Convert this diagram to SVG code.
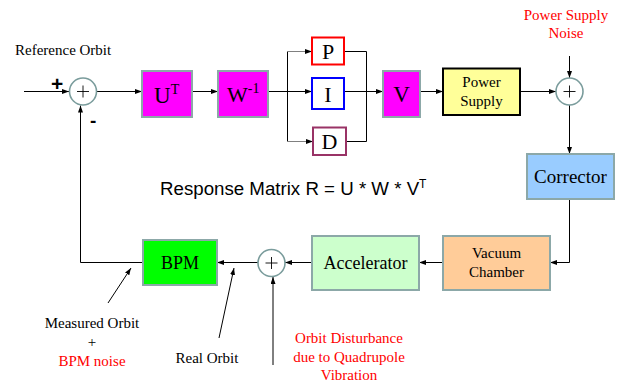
<svg xmlns="http://www.w3.org/2000/svg" width="618" height="386" viewBox="0 0 618 386">
<style>
.bg{fill:#ffffff}
.ln{fill:none;stroke:#000;stroke-width:1}
.gl{fill:none;stroke:#808080;stroke-width:1}
.box{stroke:#8CA8A8;stroke-width:2}
.mag{fill:#FF00FF}
.sum{fill:#fff;stroke:#7A9C9C;stroke-width:1.6}
.plus{fill:none;stroke:#000;stroke-width:0.9}
.t{font-family:"Liberation Serif","Times New Roman",serif;fill:#000}
.red{fill:#FF0000}
.s{font-family:"Liberation Sans",Arial,sans-serif;fill:#000}
.c{text-anchor:middle}
</style>
<defs>
<marker id="ah" markerWidth="7" markerHeight="5" refX="7" refY="2.5" orient="auto" markerUnits="userSpaceOnUse">
<path d="M0,0 L7,2.5 L0,5 z" fill="#000"/>
</marker>
</defs>
<rect class="bg" x="0" y="0" width="618" height="386"/>

<g id="connectors">
<path class="ln" d="M24,91.5 H69" marker-end="url(#ah)"/>
<path class="ln" d="M96,91.5 H142" marker-end="url(#ah)"/>
<path class="ln" d="M192,91.5 H218" marker-end="url(#ah)"/>
<path class="ln" d="M268,91.5 H312" marker-end="url(#ah)"/>
<path class="ln" d="M287.5,51.5 V141.5"/>
<path class="gl" d="M287.5,51.5 H312" marker-end="url(#ah)"/>
<path class="gl" d="M287.5,141.5 H313" marker-end="url(#ah)"/>
<path class="ln" d="M344,51.5 H366.5 V141.5 H346"/>
<path class="ln" d="M344,91.5 H383" marker-end="url(#ah)"/>
<path class="ln" d="M420,91.5 H443" marker-end="url(#ah)"/>
<path class="ln" d="M520,91.5 H556" marker-end="url(#ah)"/>
<path class="ln" d="M569.5,56 V78" marker-end="url(#ah)"/>
<path class="ln" d="M569.5,105 V154" marker-end="url(#ah)"/>
<path class="ln" d="M569.5,199 V262.5 H550" marker-end="url(#ah)"/>
<path class="ln" d="M443,262.5 H419" marker-end="url(#ah)"/>
<path class="ln" d="M312,262.5 H285" marker-end="url(#ah)"/>
<path class="ln" d="M258,262.5 H217" marker-end="url(#ah)"/>
<path class="ln" d="M143,262.5 H80.5 V105.5" marker-end="url(#ah)"/>
<path class="ln" d="M108,303 L131,268" marker-end="url(#ah)"/>
<path class="ln" d="M219,338 L234,268" marker-end="url(#ah)"/>
<path class="ln" d="M273,365 V277" marker-end="url(#ah)"/>
</g>

<g id="sum1">
<circle class="sum" cx="83" cy="91.5" r="13.5"/>
<path class="plus" d="M77,91.5 H89 M83,85.5 V97.5"/>
</g>
<g id="sum2">
<circle class="sum" cx="569.5" cy="91.5" r="13.5"/>
<path class="plus" d="M563.5,91.5 H575.5 M569.5,85.5 V97.5"/>
</g>
<g id="sum3">
<circle class="sum" cx="271.5" cy="263" r="13.5"/>
<path class="plus" d="M265.5,263 H277.5 M271.5,257 V269"/>
</g>

<g id="UT">
<rect class="box mag" x="142" y="71" width="50" height="46"/>
<text class="t" x="154" y="103" font-size="23">U<tspan font-size="14" dy="-9">T</tspan></text>
</g>
<g id="Winv">
<rect class="box mag" x="218" y="71" width="50" height="46"/>
<text class="t" x="227" y="102" font-size="22">W<tspan font-size="14" dy="-9">-1</tspan></text>
</g>
<g id="P">
<rect x="312" y="37.5" width="32" height="27" fill="#fff" stroke="#FF0000" stroke-width="2"/>
<text class="t c" x="328" y="58.5" font-size="22">P</text>
</g>
<g id="I">
<rect x="312" y="78" width="32" height="31" fill="#fff" stroke="#0000FF" stroke-width="2"/>
<text class="t c" x="328" y="101.5" font-size="22">I</text>
</g>
<g id="D">
<rect x="313" y="127.5" width="33" height="27.5" fill="#fff" stroke="#993366" stroke-width="2"/>
<text class="t c" x="329.5" y="149" font-size="22">D</text>
</g>
<g id="V">
<rect class="box mag" x="383" y="71" width="37" height="46"/>
<text class="t c" x="401.5" y="102" font-size="23">V</text>
</g>
<g id="PowerSupply">
<rect x="443" y="68.5" width="77" height="46.5" fill="#FFFF99" stroke="#000" stroke-width="2"/>
<text class="t c" x="481.5" y="87" font-size="15">Power</text>
<text class="t c" x="481.5" y="106" font-size="15">Supply</text>
</g>
<g id="Noise">
<text class="t c red" x="566" y="20" font-size="15">Power Supply</text>
<text class="t c red" x="566" y="38" font-size="15">Noise</text>
</g>
<g id="Corrector">
<rect class="box" x="527" y="154" width="87" height="45" fill="#99CCFF"/>
<text class="t c" x="570.5" y="183" font-size="19">Corrector</text>
</g>
<g id="VacuumChamber">
<rect class="box" x="443" y="236" width="107" height="54" fill="#FFCC99"/>
<text class="t c" x="496.5" y="258" font-size="15">Vacuum</text>
<text class="t c" x="496.5" y="277" font-size="15">Chamber</text>
</g>
<g id="Accelerator">
<rect class="box" x="312" y="236" width="107" height="54" fill="#CCFFCC"/>
<text class="t c" x="365.5" y="269" font-size="18">Accelerator</text>
</g>
<g id="BPM">
<rect class="box" x="143" y="240" width="74" height="45" fill="#00FF00"/>
<text class="t c" x="180" y="269" font-size="18">BPM</text>
</g>

<g id="labels">
<text class="t" x="15" y="55" font-size="15">Reference Orbit</text>
<text class="s" x="51" y="91" font-size="21" font-weight="bold">+</text>
<text class="s" x="90" y="127" font-size="19" font-weight="bold">-</text>
<text class="s" x="160" y="195" font-size="18.7">Response Matrix R = U * W * V<tspan font-size="12" dy="-7">T</tspan></text>
<text class="t c" x="92" y="328" font-size="15">Measured Orbit</text>
<text class="t c" x="92" y="347" font-size="15">+</text>
<text class="t c red" x="92" y="366" font-size="15">BPM noise</text>
<text class="t c" x="207" y="363" font-size="15">Real Orbit</text>
<text class="t c red" x="349" y="343" font-size="15">Orbit Disturbance</text>
<text class="t c red" x="349" y="362" font-size="15">due to Quadrupole</text>
<text class="t c red" x="349" y="380" font-size="15">Vibration</text>
</g>
</svg>
